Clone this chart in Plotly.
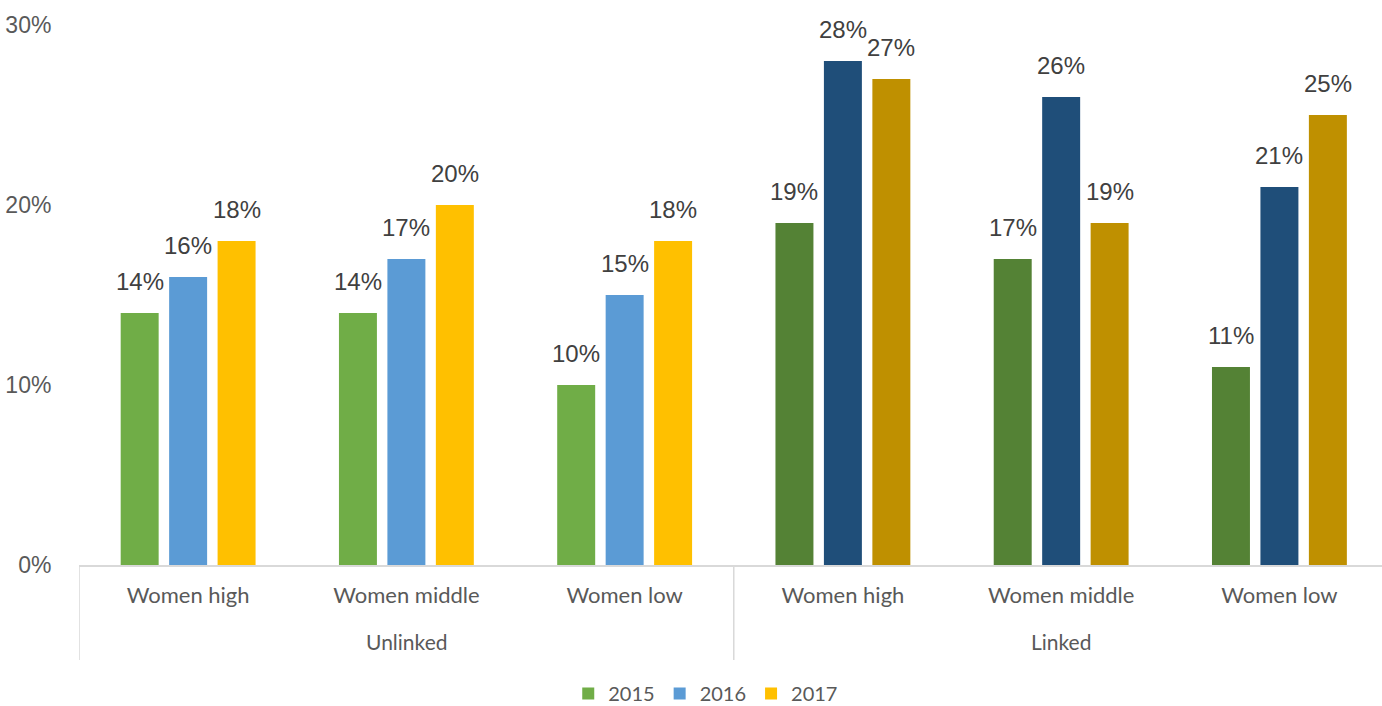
import plotly.graph_objects as go

# Survey shares by group, split by unlinked / linked records
segments = ["Unlinked", "Linked"]
categories = ["Women high", "Women middle", "Women low",
              "Women high", "Women middle", "Women low"]
years = ["2015", "2016", "2017"]
values = {
    "2015": [0.14, 0.14, 0.10, 0.19, 0.17, 0.11],
    "2016": [0.16, 0.17, 0.15, 0.28, 0.26, 0.21],
    "2017": [0.18, 0.20, 0.18, 0.27, 0.19, 0.25],
}
y_ticks = [0, 0.1, 0.2, 0.3]
y_tick_text = ["0%", "10%", "20%", "30%"]

# light tones for unlinked, dark tones for linked
light = {"2015": "#70AD47", "2016": "#5B9BD5", "2017": "#FFC000"}
dark = {"2015": "#548235", "2016": "#1F4E79", "2017": "#BF9000"}

n = len(categories)
per_seg = n // len(segments)
bar_w = 0.174
step = 0.222

fig = go.Figure()
annotations = []
for k, yr in enumerate(years):
    off = (k - 1) * step
    xs = [i + off for i in range(n)]
    colors = [light[yr] if i < per_seg else dark[yr] for i in range(n)]
    fig.add_trace(go.Bar(
        x=xs, y=values[yr], width=bar_w, name=yr,
        marker=dict(color=colors, line=dict(width=0)),
        hoverinfo="skip",
    ))
    for x, v in zip(xs, values[yr]):
        annotations.append(dict(
            x=x, y=v, xref="x", yref="y", text=f"{round(v * 100)}%",
            showarrow=False, yanchor="bottom", yshift=16,
            font=dict(family="Liberation Sans, Arial", size=24, color="#404040"),
        ))

# segment labels below the category labels
for s, seg in enumerate(segments):
    center = s * per_seg + (per_seg - 1) / 2
    annotations.append(dict(
        x=center, y=-0.141, xref="x", yref="paper", text=seg,
        showarrow=False, yanchor="middle",
        font=dict(family="Lato", size=21, color="#595959"),
    ))

# divider lines between segments
shapes = []
for b in range(len(segments) + 1):
    shapes.append(dict(
        type="line", xref="x", yref="paper",
        x0=b * per_seg - 0.5, x1=b * per_seg - 0.5, y0=0, y1=-0.176,
        line=dict(color="#D9D9D9", width=1.5),
    ))

fig.update_layout(
    width=1382, height=706,
    margin=dict(l=79, r=0, t=25, b=141, autoexpand=False),
    paper_bgcolor="white", plot_bgcolor="white",
    barmode="overlay",
    showlegend=True,
    legend=dict(
        orientation="h", x=0.481, xanchor="center", y=-0.238, yanchor="middle",
        font=dict(family="Lato", size=20, color="#595959"),
        itemwidth=30, traceorder="normal",
    ),
    annotations=annotations,
    shapes=shapes,
)
fig.update_xaxes(
    range=[-0.5, 5.47],
    tickmode="array", tickvals=list(range(n)), ticktext=categories,
    tickfont=dict(family="Lato", size=22, color="#595959"),
    showgrid=False, zeroline=False,
    showline=True, linecolor="#D9D9D9", linewidth=1.5,
    ticks="outside", ticklen=10, tickcolor="rgba(0,0,0,0)",
)
fig.update_yaxes(
    range=[0, 0.3],
    tickmode="array", tickvals=y_ticks, ticktext=y_tick_text,
    tickfont=dict(family="Liberation Sans, Arial", size=23, color="#595959"),
    showgrid=False, zeroline=False, showline=False,
    ticks="outside", ticklen=22, tickcolor="rgba(0,0,0,0)",
)

fig.write_html("out.html")
